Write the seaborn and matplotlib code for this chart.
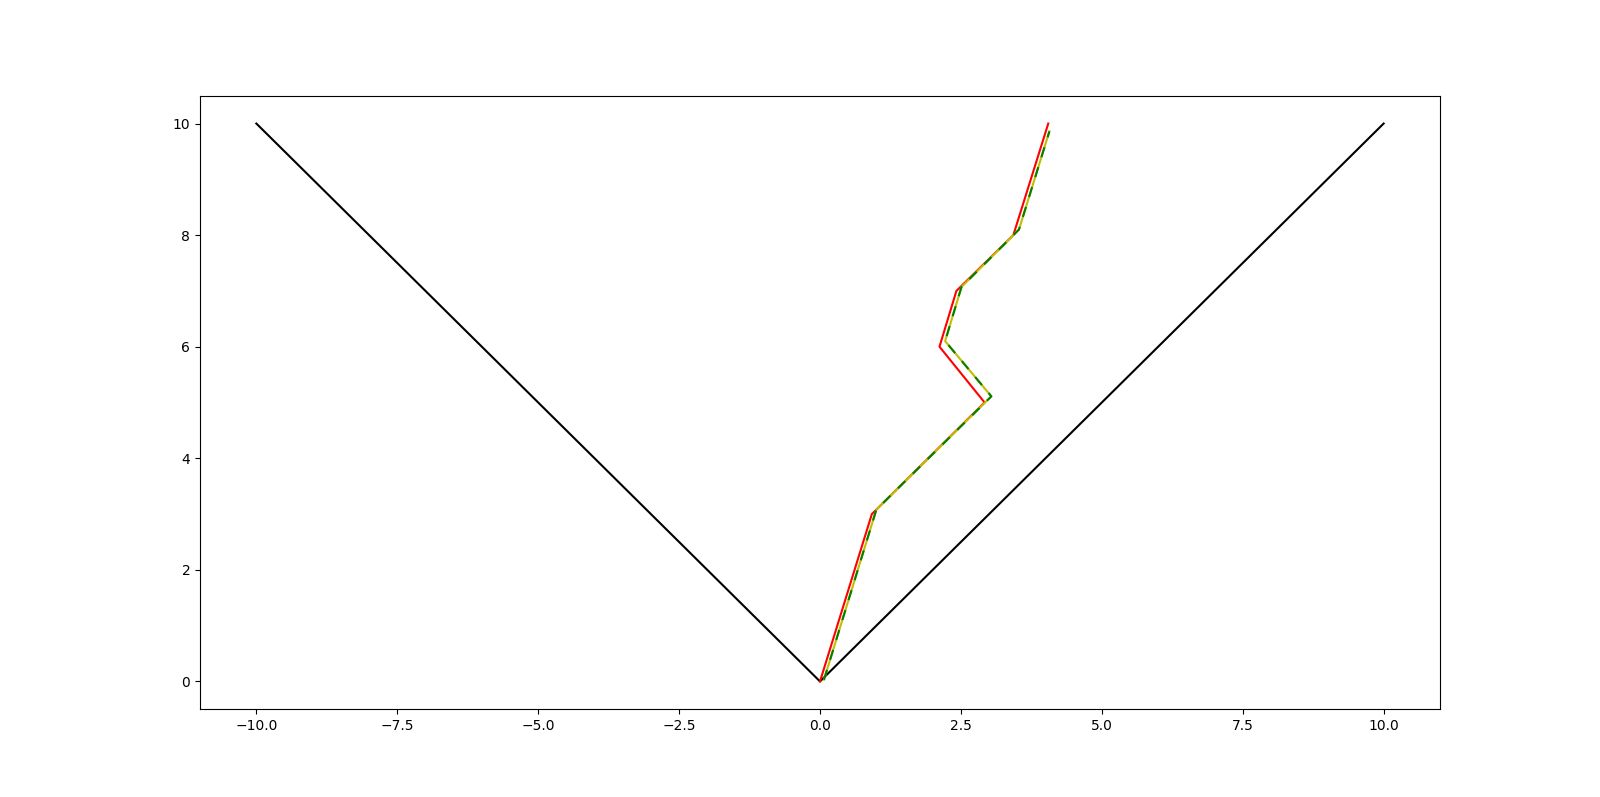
import matplotlib
matplotlib.use("Agg")
import matplotlib.pyplot as plt
import seaborn as sns

# Data
v_x = [-10, 0, 10]
v_y = [10, 0, 10]

red_x = [0.0, 0.92, 2.92, 2.12, 2.42, 3.43, 4.05]
red_y = [0.0, 3.0, 5.0, 6.0, 7.0, 8.0, 10.0]

alt_x = [0.07, 1.0, 3.04, 2.22, 2.51, 3.53, 4.07]
alt_y = [0.03, 3.08, 5.11, 6.10, 7.07, 8.10, 9.86]

fig, ax = plt.subplots(figsize=(16, 7.97), dpi=100)

sns.lineplot(x=v_x, y=v_y, sort=False, estimator=None, color="k", ax=ax, lw=1.5)
sns.lineplot(x=red_x, y=red_y, sort=False, estimator=None, color="r", ax=ax, lw=1.5)
sns.lineplot(x=alt_x, y=alt_y, sort=False, estimator=None, color="y", ax=ax, lw=1.5)
sns.lineplot(x=alt_x, y=alt_y, sort=False, estimator=None, color="g", ax=ax, lw=1.5,
             linestyle=(0, (5, 5)))

ax.set_xlim(-11, 11)
ax.set_ylim(-0.5, 10.5)
ax.set_xlabel("")
ax.set_ylabel("")

fig.savefig("out.png", dpi=100)
